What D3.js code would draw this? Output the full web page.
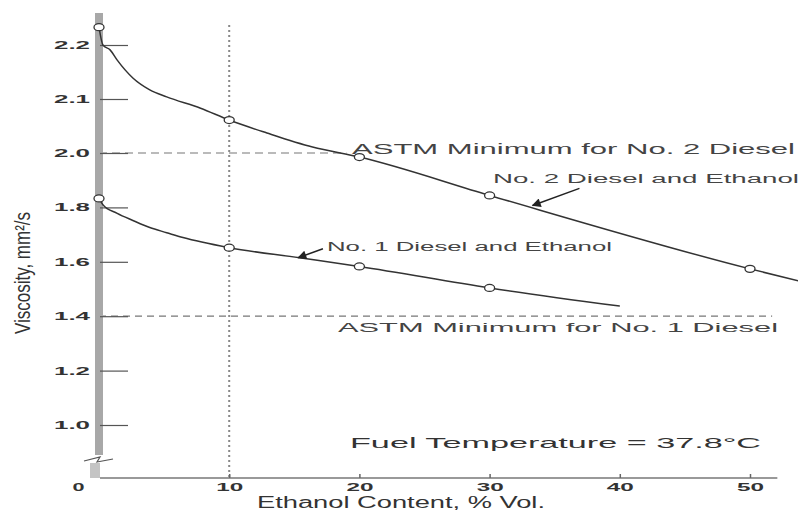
<!DOCTYPE html>
<html><head><meta charset="utf-8">
<script src="https://cdn.jsdelivr.net/npm/d3@7"></script>
<style>
html,body{margin:0;padding:0;background:#fff;}
svg{display:block;font-family:"Liberation Sans",Arial,sans-serif;}
</style></head>
<body><svg id="c" width="798" height="513"></svg>
<script>
// ---- data ----
const no2X = [0, 0.3, 0.85, 1.4, 2.6, 3.9, 5.2, 7.8, 10, 12.9, 16.4, 20, 30, 50, 53.7];
const no2Y = [2.233, 2.200, 2.191, 2.172, 2.139, 2.117, 2.104, 2.083, 2.061, 2.037, 2.011, 1.985, 1.844, 1.574, 1.530];
const no2MarkX = [0, 10, 20, 30, 50];
const no2MarkY = [2.233, 2.061, 1.985, 1.844, 1.574];
const no1X = [0, 0.3, 1.4, 2.6, 3.9, 5.2, 6.45, 10, 15.4, 20, 30, 40];
const no1Y = [1.833, 1.810, 1.778, 1.752, 1.726, 1.707, 1.689, 1.652, 1.615, 1.583, 1.504, 1.437];
const no1MarkX = [0, 10, 20, 30];
const no1MarkY = [1.833, 1.652, 1.583, 1.504];
const xTicks = [0, 10, 20, 30, 40, 50];
const yTicks = [1.0, 1.2, 1.4, 1.6, 1.8, 2.0, 2.1, 2.2];
const astmNo2 = 2.0, astmNo1 = 1.4, refEthanol = 10;

const svg = d3.select("#c");
const x = d3.scaleLinear().domain([0, 50]).range([99, 750]);
const y = d3.scaleLinear().domain([1.0, 2.0, 2.2]).range([425, 153, 45]);
const ink = "#333";

// vertical reference at 10%
svg.append("line").attr("x1", x(refEthanol)).attr("x2", x(refEthanol))
  .attr("y1", 25).attr("y2", 478)
  .attr("stroke", "#888").attr("stroke-width", 2).attr("stroke-dasharray", "2,3");

// ASTM minimum dashed lines
svg.append("line").attr("x1", x(0)).attr("x2", x(19)).attr("y1", y(astmNo2)).attr("y2", y(astmNo2))
  .attr("stroke", "#777").attr("stroke-width", 1.2).attr("stroke-dasharray", "8,5");
svg.append("line").attr("x1", x(0)).attr("x2", x(51.7)).attr("y1", y(astmNo1)).attr("y2", y(astmNo1))
  .attr("stroke", "#777").attr("stroke-width", 1.2).attr("stroke-dasharray", "7,5");

// y axis (thick gray bar with break)
svg.append("rect").attr("x", 95).attr("y", 13).attr("width", 8).attr("height", 442).attr("fill", "#a8a8a8");
svg.append("rect").attr("x", 90).attr("y", 463).attr("width", 10).attr("height", 15).attr("fill", "#c4c4c4");
svg.append("path").attr("d", "M84,461 L100,457 L97,462 L113,459")
  .attr("fill", "none").attr("stroke", "#555").attr("stroke-width", 1.2);

const yAxis = d3.axisLeft(y).tickValues(yTicks).tickSize(-28).tickPadding(10).tickFormat(d3.format(".1f"));
const gy = svg.append("g").attr("transform", "translate(100,0)").call(yAxis);
gy.select(".domain").remove();
gy.selectAll(".tick line").attr("stroke", "#555").attr("stroke-width", 1.2);
gy.selectAll(".tick text").attr("font-size", 11).attr("font-weight", "bold").attr("fill", "#333")
  .attr("font-family", "Liberation Sans, Arial, sans-serif")
  .attr("textLength", 36).attr("lengthAdjust", "spacingAndGlyphs");

// x axis
svg.append("line").attr("x1", 100).attr("x2", x(52.1)).attr("y1", 478).attr("y2", 478)
  .attr("stroke", "#777").attr("stroke-width", 1.6);
const xAxis = d3.axisBottom(x).tickValues(xTicks).tickSize(-4).tickPadding(6).tickFormat(d3.format("d"));
const gx = svg.append("g").attr("transform", "translate(0,478)").call(xAxis);
gx.select(".domain").remove();
gx.selectAll(".tick line").attr("stroke", "#666").attr("stroke-width", 1.5)
  .attr("opacity", d => d === 0 ? 0 : 1);
gx.selectAll(".tick text").attr("font-size", 10).attr("font-weight", "bold").attr("fill", "#333")
  .attr("font-family", "Liberation Sans, Arial, sans-serif")
  .attr("textLength", d => d === 0 ? 12 : 27).attr("lengthAdjust", "spacingAndGlyphs")
  .attr("dx", d => d === 0 ? -21 : 0);

// curves
const line = d3.line().x(d => x(d[0])).y(d => y(d[1])).curve(d3.curveMonotoneX);
svg.append("path").datum(no2X.map((v, i) => [v, no2Y[i]])).attr("d", line)
  .attr("fill", "none").attr("stroke", ink).attr("stroke-width", 1.5);
svg.append("path").datum(no1X.map((v, i) => [v, no1Y[i]])).attr("d", line)
  .attr("fill", "none").attr("stroke", ink).attr("stroke-width", 1.5);

// markers
const marks = no2MarkX.map((v, i) => [v, no2MarkY[i]]).concat(no1MarkX.map((v, i) => [v, no1MarkY[i]]));
svg.selectAll("ellipse.m").data(marks).join("ellipse").attr("class", "m")
  .attr("cx", d => x(d[0])).attr("cy", d => y(d[1])).attr("rx", 5).attr("ry", 3.5)
  .attr("fill", "#fff").attr("stroke", ink).attr("stroke-width", 1.3);

// arrows
const defs = svg.append("defs");
defs.append("marker").attr("id", "ah").attr("viewBox", "0 0 10 10").attr("refX", 9).attr("refY", 5)
  .attr("markerWidth", 8).attr("markerHeight", 6).attr("orient", "auto")
  .append("path").attr("d", "M0,0 L10,5 L0,10 Z").attr("fill", "#222");
const arrows = [[36.9, 1.870, 33.3, 1.807], [17.2, 1.648, 15.3, 1.615]];
svg.selectAll("line.ar").data(arrows).join("line").attr("class", "ar")
  .attr("x1", d => x(d[0])).attr("y1", d => y(d[1])).attr("x2", d => x(d[2])).attr("y2", d => y(d[3]))
  .attr("stroke", "#222").attr("stroke-width", 1.5).attr("marker-end", "url(#ah)");

// labels
function label(t, x0, yb, fs, len, col) {
  svg.append("text").attr("x", x0).attr("y", yb).attr("font-size", fs).attr("fill", col || "#444")
    .attr("textLength", len).attr("lengthAdjust", "spacingAndGlyphs").text(t);
}
label("ASTM Minimum for No. 2 Diesel", 352, 154, 14, 443);
label("No. 2 Diesel and Ethanol", 493, 183, 12.5, 306);
label("No. 1 Diesel and Ethanol", 327, 251, 12, 285);
label("ASTM Minimum for No. 1 Diesel", 338, 332, 13.5, 440);
label("Fuel Temperature = 37.8°C", 350, 448, 15, 411, "#333");
label("Ethanol Content, % Vol.", 257, 508, 16, 288, "#333");

// y axis title
svg.append("text").attr("transform", "translate(30,273) scale(1.8,1) rotate(-90)")
  .attr("text-anchor", "middle").attr("font-size", 12.5).attr("fill", "#333")
  .attr("textLength", 122).attr("lengthAdjust", "spacingAndGlyphs")
  .text("Viscosity, mm²/s");
</script></body></html>
